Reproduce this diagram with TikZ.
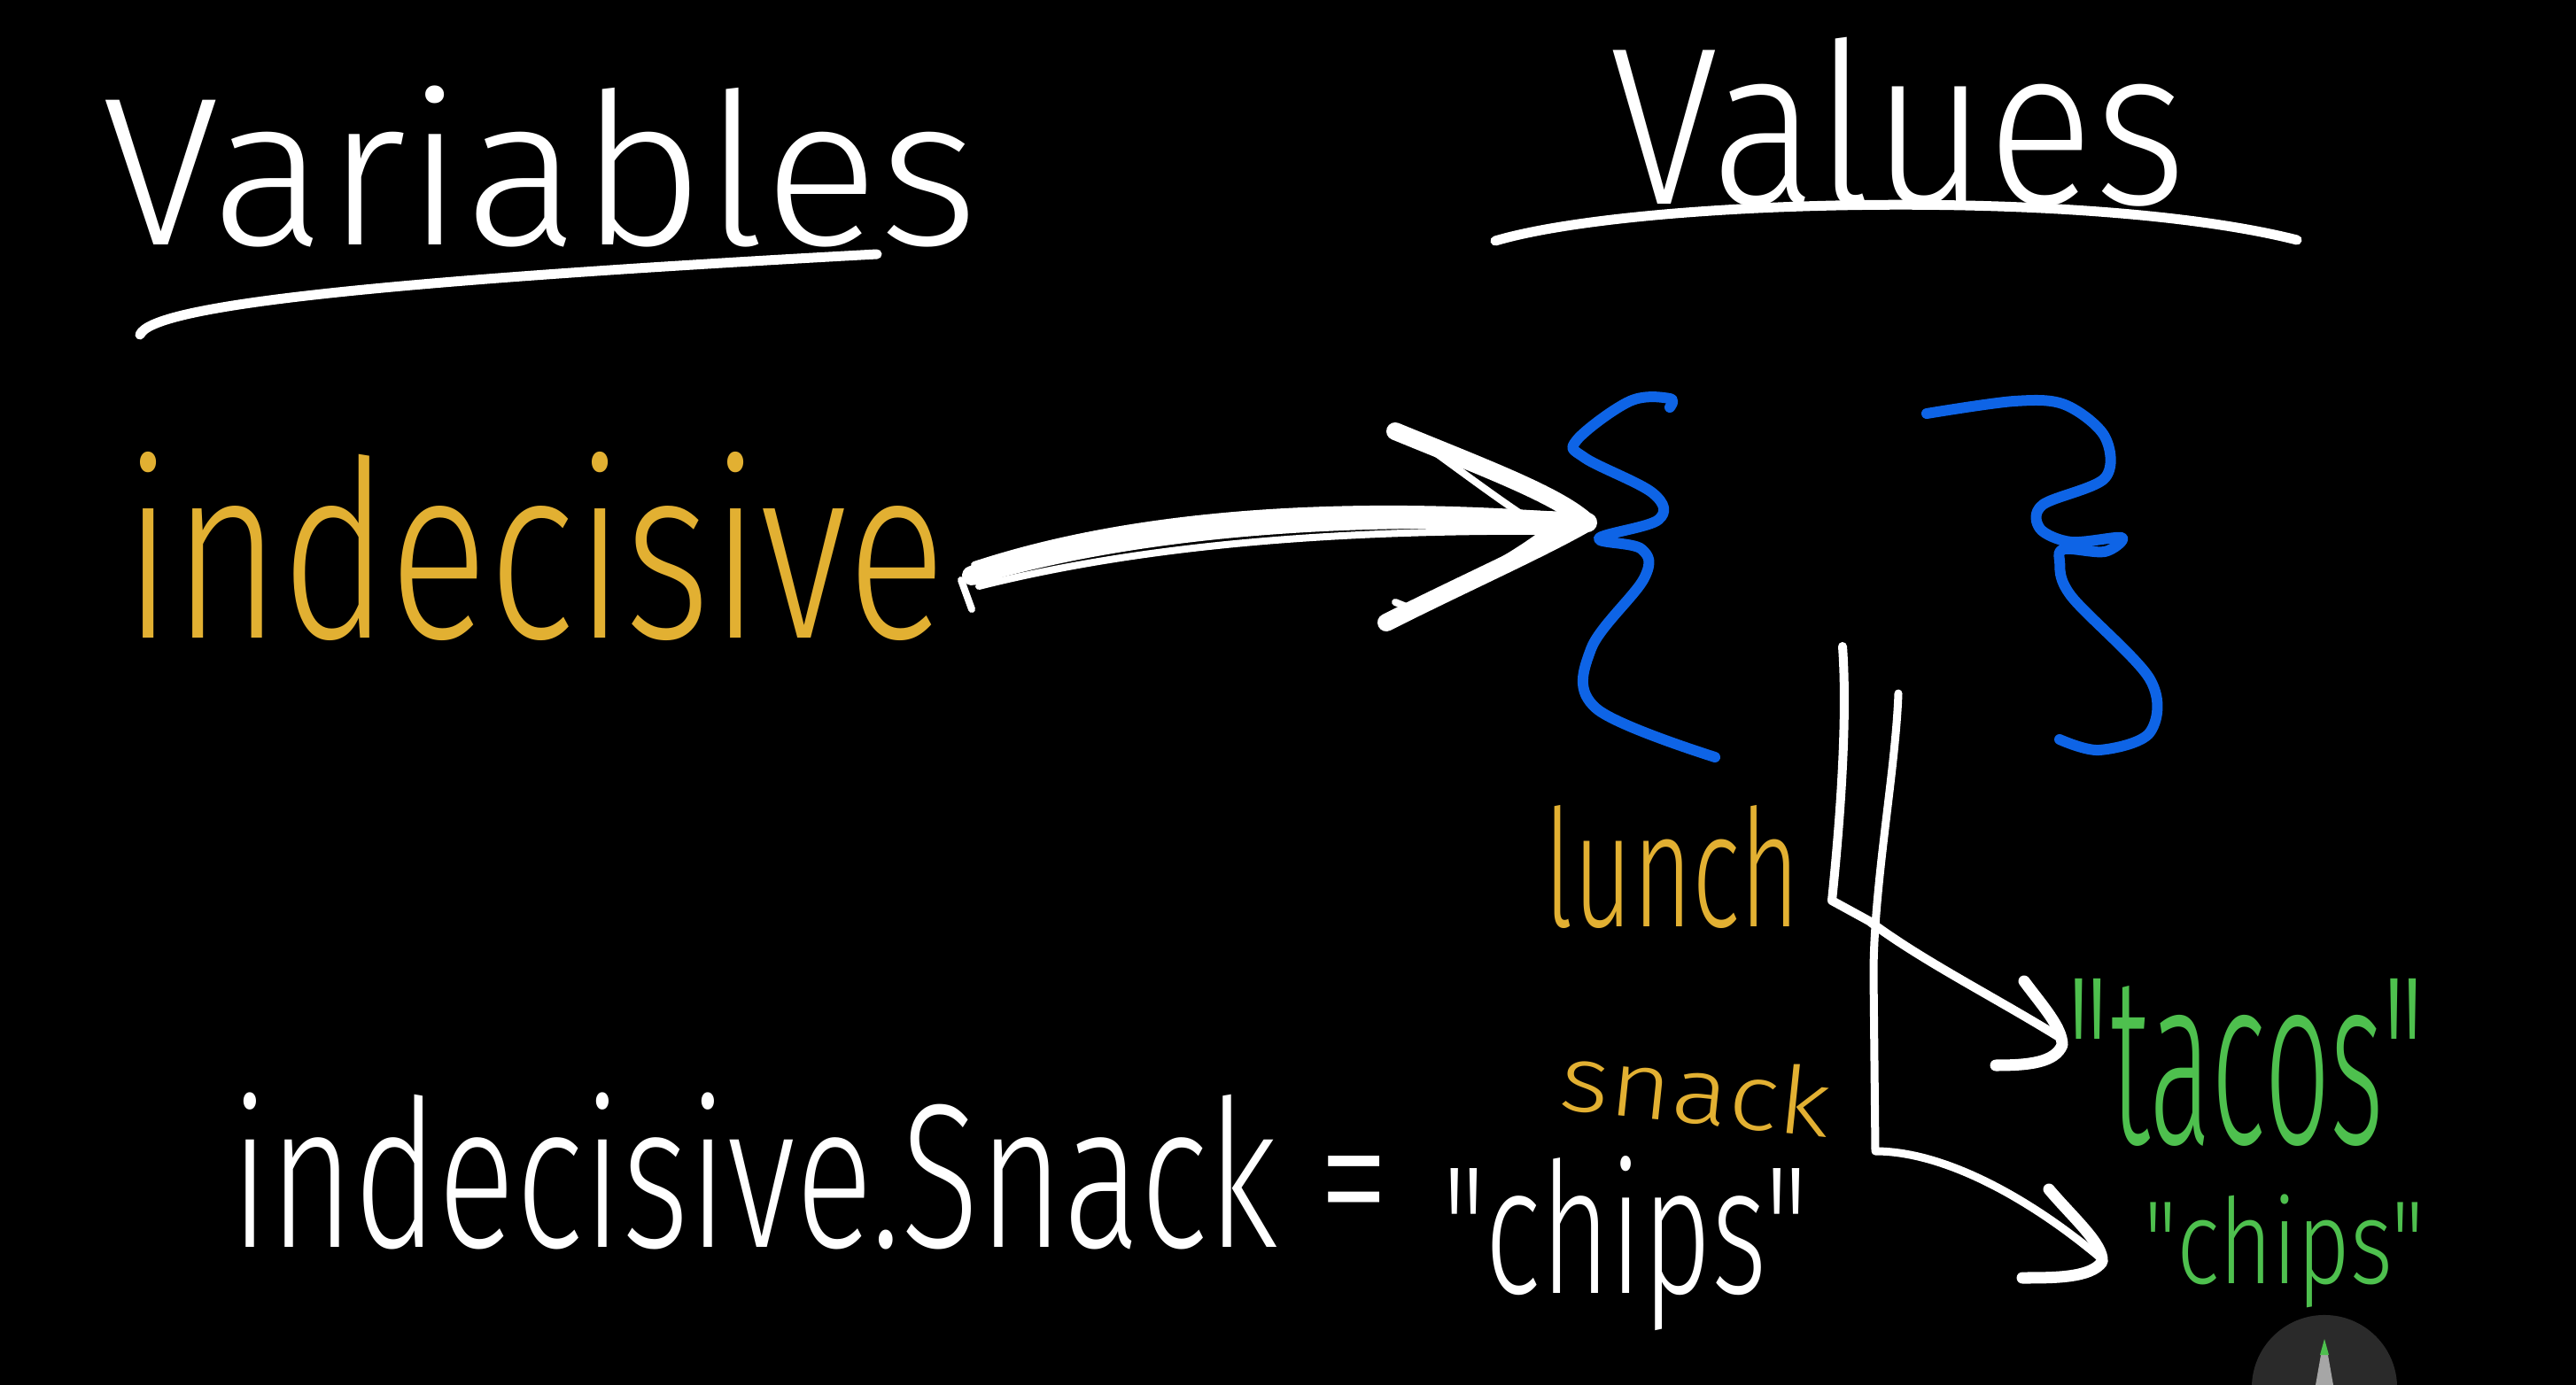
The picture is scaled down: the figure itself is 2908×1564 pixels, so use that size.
\documentclass[tikz,border=0pt]{standalone}
\usepackage{fontspec}
\usepackage{graphicx}
\newfontfamily\hand{Fira Sans Light}
\definecolor{gold}{RGB}{226,176,50}
\definecolor{vgreen}{RGB}{78,192,78}
\definecolor{bblue}{RGB}{14,100,230}
\definecolor{pengray}{RGB}{42,42,42}
\tikzset{
  txt/.style={inner sep=0pt, anchor=north west},
  brace/.style={draw=bblue, line width=0.12cm, line cap=round, line join=round},
  stroke/.style={draw=white, line width=0.11cm, line cap=round, line join=round},
  thin stroke/.style={draw=white, line width=0.08cm, line cap=round, line join=round}
}
\begin{document}
\begin{tikzpicture}[x=0.01cm,y=-0.01cm]
\fill[black] (0,0) rectangle (2908,1564);
\useasboundingbox (0,0) rectangle (2908,1564);

% headings
\node[txt, text=white] (var) at (115,96) {\resizebox*{9.88cm}{1.82cm}{\hand Variables}};
\node[txt, text=white] (val) at (1817,41) {\resizebox*{6.50cm}{1.91cm}{\hand Values}};
\draw[stroke] (158,378) .. controls (172,345) and (420,318) .. (990,287);
\draw[stroke] (1688,272) .. controls (1850,224) and (2360,212) .. (2593,271);

% variable name
\node[txt, text=gold] (indec) at (139,510) {\resizebox*{9.27cm}{2.13cm}{\hand indecisive}};

% big arrow
\coordinate (tail) at (1097,650);
\coordinate (bigtip) at (1792,590);
\draw[white, line width=0.22cm, line cap=round] (tail) .. controls (1300,590) and (1550,578) .. (bigtip);
\draw[thin stroke] (1100,638) .. controls (1300,572) and (1550,566) .. (1770,583);
\draw[thin stroke] (1105,662) .. controls (1320,608) and (1560,598) .. (1775,600);
\draw[thin stroke] (1085,655) -- (1097,688);
\draw[white, line width=0.2cm, line cap=round, line join=round] (1575,487) .. controls (1680,530) and (1760,560) .. (bigtip) .. controls (1740,620) and (1650,660) .. (1565,703);
\draw[thin stroke] (1605,500) .. controls (1660,540) and (1700,570) .. (1735,592);
\draw[thin stroke] (1612,678) .. controls (1670,650) and (1720,620) .. (1745,600);
\draw[thin stroke] (1600,690) -- (1575,680);

% braces
\draw[brace] plot[smooth, tension=0.6] coordinates {(1885,460) (1885,450) (1840,453) (1780,497) (1789,517) (1866,557) (1872,587) (1805,608) (1853,620) (1856,653) (1796,733) (1802,800) (1936,855)};
\draw[brace] plot[smooth, tension=0.55] coordinates {(2175,467) (2274,453) (2331,457) (2376,493) (2376,540) (2306,570) (2303,597) (2338,612) (2395,607) (2376,623) (2331,620) (2325,633) (2338,673) (2427,767) (2427,827) (2370,847) (2325,835)};

% keys
\node[txt, text=gold] (lunch) at (1743,909) {\resizebox*{2.88cm}{1.39cm}{\hand lunch}};
\node[text=gold, inner sep=0pt, rotate=-6] (snack) at (1915,1230) {\resizebox*{3.06cm}{0.8cm}{\hand snack}};

% values
\node[txt, text=vgreen] (tacos) at (2333,1105) {\resizebox*{4.03cm}{1.89cm}{\hand "tacos"}};
\node[txt, text=vgreen] (chipsv) at (2420,1348) {\resizebox*{3.16cm}{1.28cm}{\hand "chips"}};

% connectors
\coordinate (l1top) at (2080,730);
\coordinate (l1tip) at (2326,1172);
\draw[stroke, line width=0.1cm] (l1top) .. controls (2085,800) and (2080,900) .. (2068,1017) -- (2110,1040) .. controls (2170,1085) and (2250,1125) .. (l1tip);
\draw[stroke, line width=0.13cm] (2285,1108) .. controls (2305,1135) and (2328,1160) .. (2328,1180) .. controls (2320,1200) and (2290,1203) .. (2253,1203);
\coordinate (l2top) at (2143,783);
\coordinate (l2tip) at (2373,1422);
\draw[stroke, line width=0.09cm] (l2top) .. controls (2140,870) and (2115,1000) .. (2115,1100) -- (2117,1300) .. controls (2200,1300) and (2300,1360) .. (l2tip);
\draw[stroke, line width=0.13cm] (2313,1343) .. controls (2340,1375) and (2375,1405) .. (2373,1425) .. controls (2360,1443) and (2320,1443) .. (2283,1443);

% assignment
\node[txt, text=white] (assign) at (260,1233) {\resizebox*{13.07cm}{1.77cm}{\hand indecisive.Snack =}};
\node[txt, text=white] (chipsw) at (1628,1305) {\resizebox*{4.12cm}{1.97cm}{\hand "chips"}};

% pen cursor
\fill[pengray] (2624,1567) circle[radius=0.82cm];
\fill[gray!70] (2620,1530) -- (2628,1530) -- (2634,1564) -- (2614,1564) -- cycle;
\fill[vgreen] (2624,1512) -- (2629,1530) -- (2619,1530) -- cycle;
\end{tikzpicture}
\end{document}
